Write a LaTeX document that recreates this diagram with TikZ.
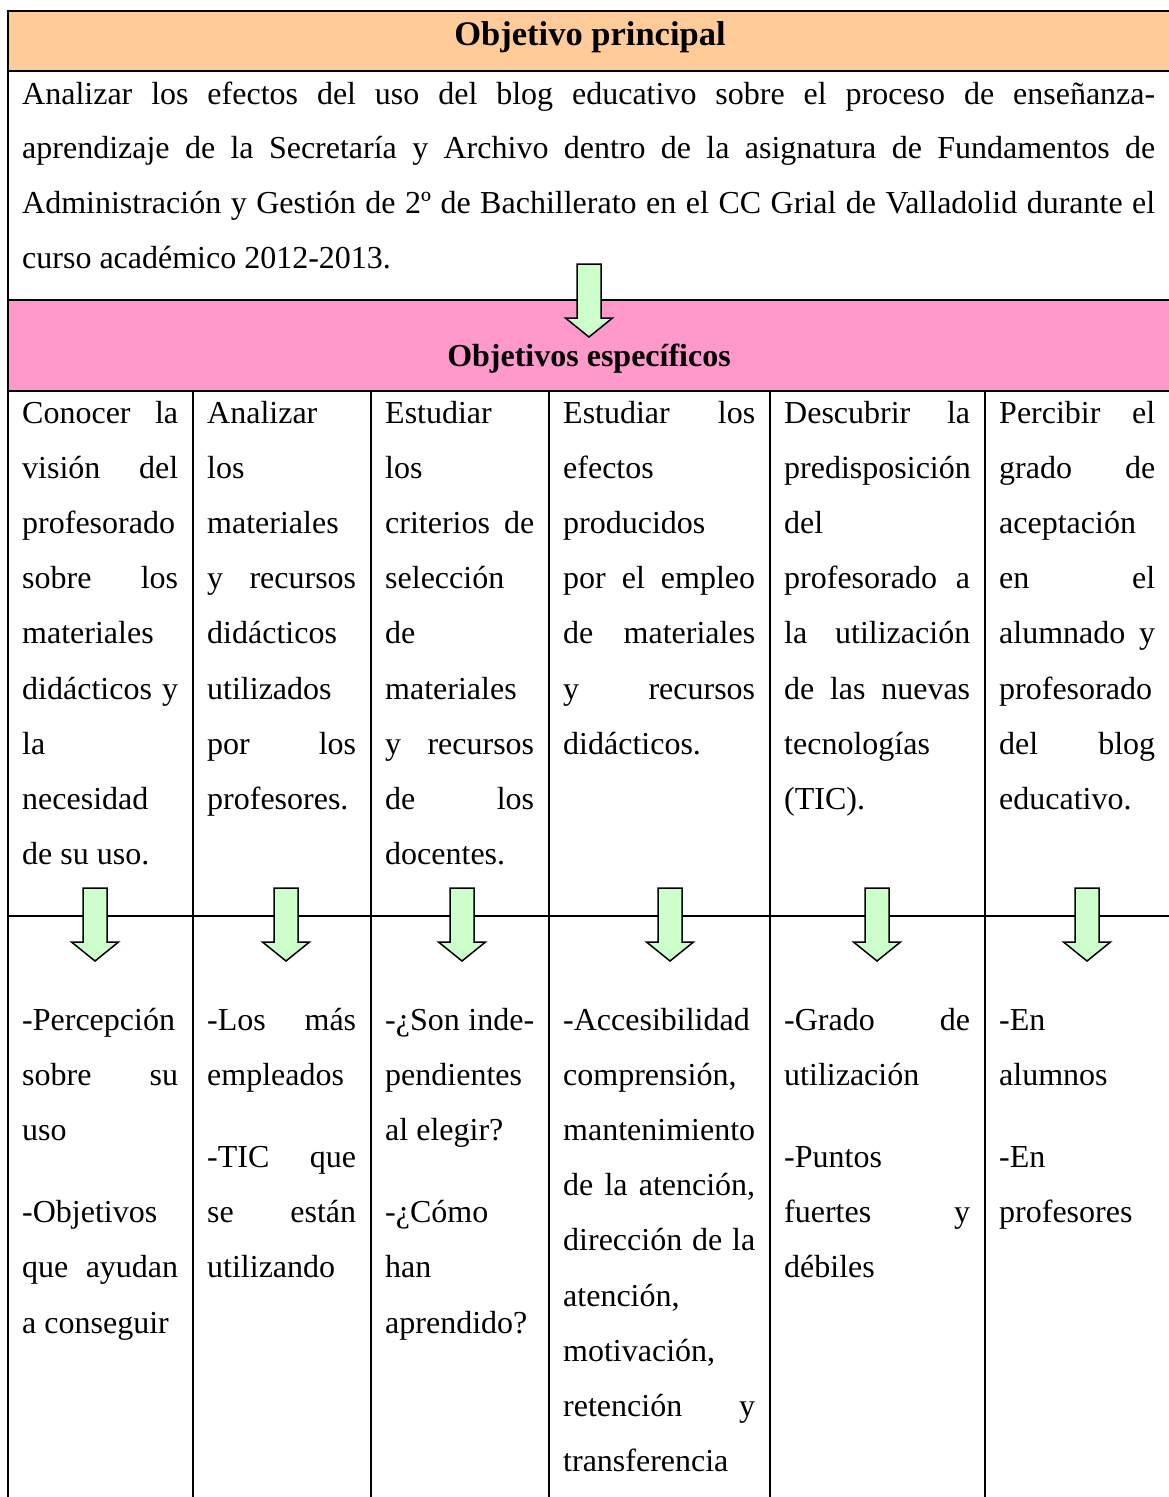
\documentclass[tikz,border=0pt]{standalone}
\usepackage{fontspec}
\setmainfont{Liberation Serif}
\usepackage{tikz}
\usetikzlibrary{positioning}
\definecolor{naranja}{HTML}{FFCC99}
\definecolor{rosa}{HTML}{FF99CC}
\definecolor{verdeflecha}{HTML}{CCFFCC}
\newlength{\anchocelda}
\newcommand{\estira}[1]{\makebox[\anchocelda][s]{\spaceskip=0.25em plus 1fil minus 0.06em\relax #1}}
\tikzset{
    linea/.style={draw=black, line width=2.2pt},
    celda/.style={anchor=base west, inner sep=0pt, align=justify, text width=#1,
        execute at begin node={\setlength{\anchocelda}{#1}},
        font=\fontsize{32}{55.2}\selectfont},
    cabecera/.style={anchor=base, inner sep=0pt, font=\bfseries\fontsize{32}{38}\selectfont},
    flechabox/.style={draw=black, line width=1.5pt, fill=verdeflecha, line join=miter},
    pics/flecha/.style={code={
        \draw[flechabox] (-12,0) -- (12,0) -- (12,54) -- (23.5,54) -- (0,73)
            -- (-23.5,54) -- (-12,54) -- cycle;
    }},
}

\begin{document}
\begin{tikzpicture}[x=1pt, y=-1pt]
\clip (0,0) rectangle (1169,1497);
\begin{scope}
	\fill[naranja] (8,11) rectangle (1180,71);
	\fill[rosa] (8,300) rectangle (1180,391);
	\draw[linea] (1180,11) -- (8,11) -- (8,1510);
	\draw[linea] (8,71) -- (1180,71);
	\draw[linea] (8,300) -- (1180,300);
	\draw[linea] (8,391) -- (1180,391);
	\draw[linea] (8,916) -- (1180,916);
	\draw[linea] (193,391) -- (193,1510);
	\draw[linea] (371,391) -- (371,1510);
	\draw[linea] (549,391) -- (549,1510);
	\draw[linea] (770,391) -- (770,1510);
	\draw[linea] (985,391) -- (985,1510);
\end{scope}
\node[cabecera, font=\bfseries\fontsize{34.5}{40}\selectfont] (tprincipal) at (590,45) {Objetivo principal};
\node[celda=1133pt, font=\fontsize{32}{54.9}\selectfont] (general) at (22,104) {%
	\estira{Analizar los efectos del uso del blog educativo sobre el proceso de enseñanza-}\\
	\estira{aprendizaje de la Secretaría y Archivo dentro de la asignatura de Fundamentos de}\\
	\estira{Administración y Gestión de 2º de Bachillerato en el CC Grial de Valladolid durante el}\\
	curso académico 2012-2013.};
\node[cabecera] (tespecificos) at (589,366) {Objetivos específicos};
\node[celda=156pt] (e1) at (22,423) {\estira{Conocer la}\\ \estira{visión del}\\ profesorado\\
	\estira{sobre los}\\ materiales\\ \estira{didácticos y}\\ la\\ necesidad\\ de su uso.};
\node[celda=149pt] (e2) at (207,423) {Analizar\\ los\\ materiales\\ \estira{y recursos}\\
	didácticos\\ utilizados\\ \estira{por los}\\ profesores.};
\node[celda=149pt] (e3) at (385,423) {Estudiar\\ los\\ \estira{criterios de}\\ selección\\ de\\
	materiales\\ \estira{y recursos}\\ \estira{de los}\\ docentes.};
\node[celda=192pt] (e4) at (563,423) {\estira{Estudiar los}\\ efectos\\ producidos\\
	\estira{por el empleo}\\ \estira{de materiales}\\ \estira{y recursos}\\ didácticos.};
\node[celda=186pt] (e5) at (784,423) {\estira{Descubrir la}\\ predisposición\\ del\\
	\estira{profesorado a}\\ \estira{la utilización}\\ \estira{de las nuevas}\\ tecnologías\\ (TIC).};
\node[celda=156pt] (e6) at (999,423) {\estira{Percibir el}\\ \estira{grado de}\\ aceptación\\
	\estira{en el}\\ \estira{alumnado y}\\ profesorado\\ \estira{del blog}\\ educativo.};
\node[celda=156pt] (r1) at (22,1030) {-Percepción\\ \estira{sobre su}\\ uso\\[27pt]
	-Objetivos\\ \estira{que ayudan}\\ a conseguir};
\node[celda=149pt] (r2) at (207,1030) {\estira{-Los más}\\ empleados\\[27pt]
	\estira{-TIC que}\\ \estira{se están}\\ utilizando};
\node[celda=149pt] (r3) at (385,1030) {\estira{-¿Son inde-}\\ pendientes\\ al elegir?\\[27pt]
	-¿Cómo\\ han\\ aprendido?};
\node[celda=192pt] (r4) at (563,1030) {-Accesibilidad\\ comprensión,\\ mantenimiento\\
	\estira{de la atención,}\\ \estira{dirección de la}\\ atención,\\ motivación,\\ \estira{retención y}\\ transferencia};
\node[celda=186pt] (r5) at (784,1030) {\estira{-Grado de}\\ utilización\\[27pt]
	-Puntos\\ \estira{fuertes y}\\ débiles};
\node[celda=156pt] (r6) at (999,1030) {-En\\ alumnos\\[27pt] -En\\ profesores};
\pic at (589,264) {flecha};
\pic at (95,888) {flecha};
\pic at (286,888) {flecha};
\pic at (462,888) {flecha};
\pic at (670,888) {flecha};
\pic at (877,888) {flecha};
\pic at (1087,888) {flecha};
\end{tikzpicture}
\end{document}
